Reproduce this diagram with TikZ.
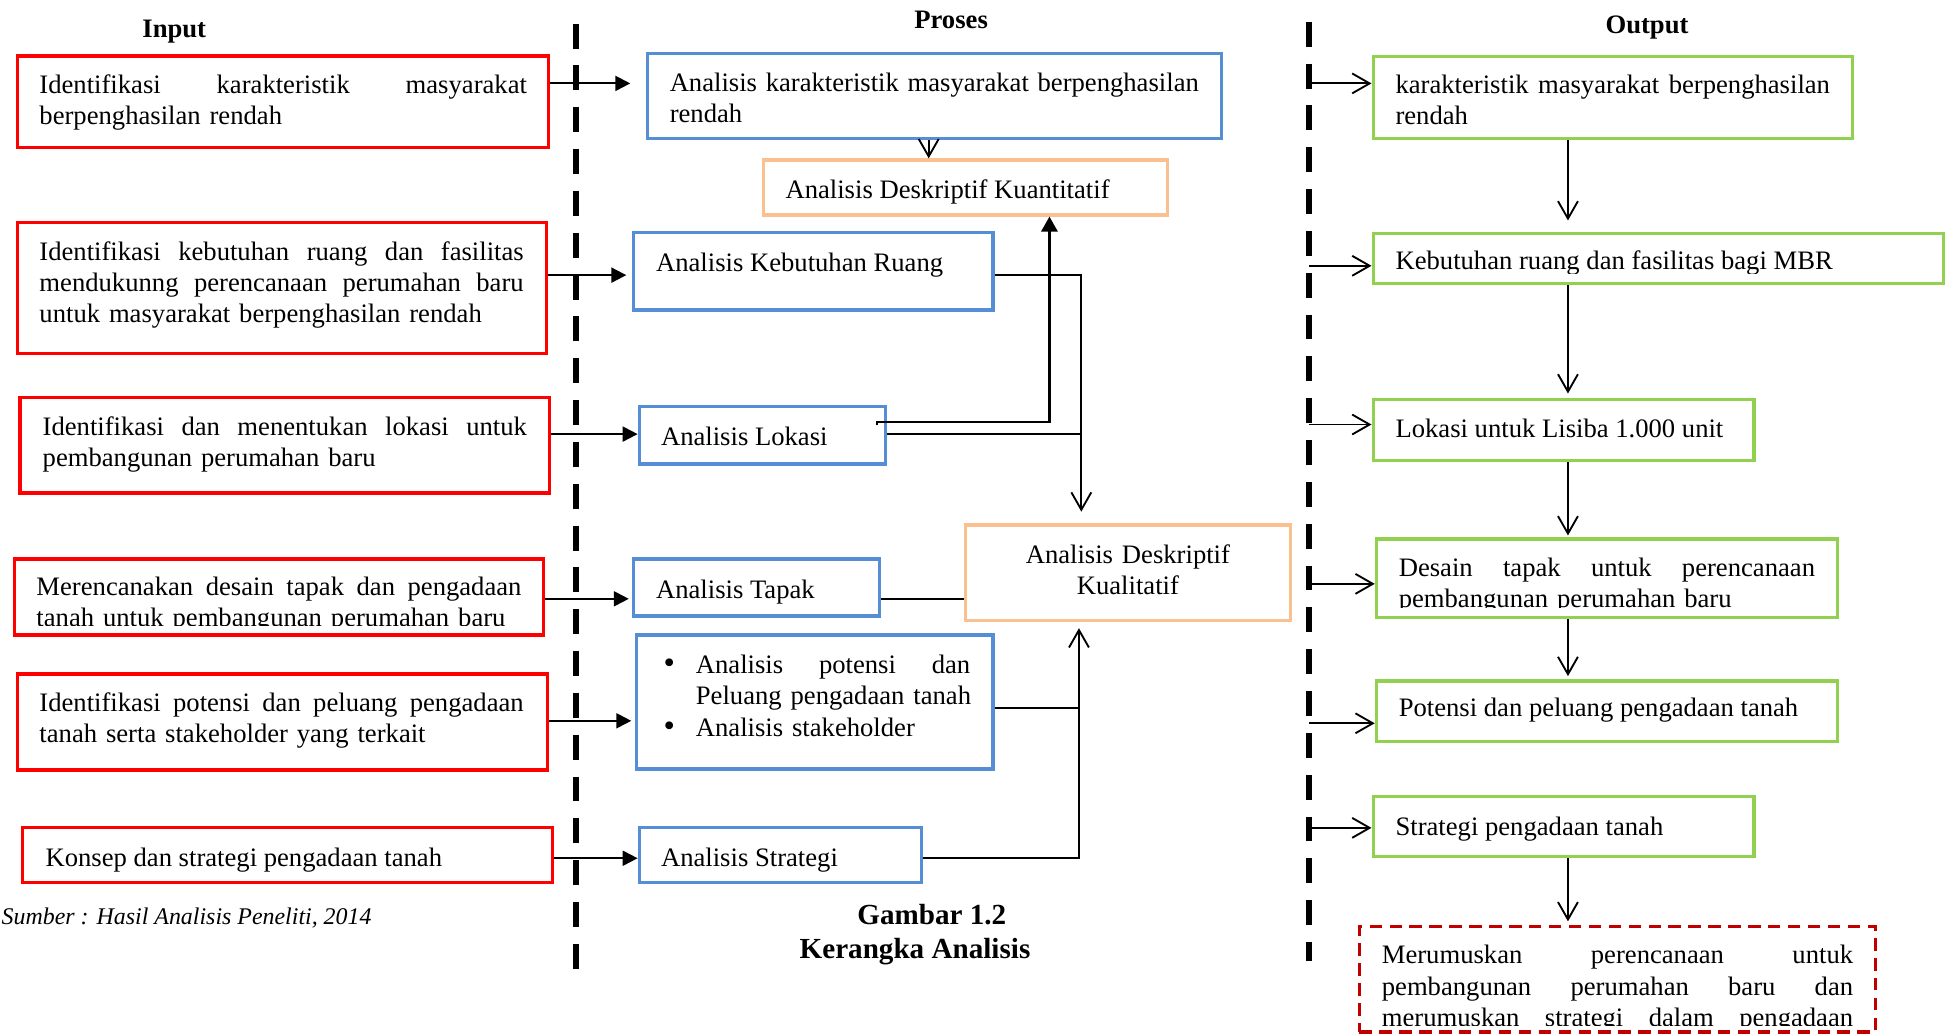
\documentclass[tikz,border=0pt]{standalone}
\usepackage{fontspec}
\setmainfont{Liberation Serif}
\usetikzlibrary{arrows.meta,fit}
\definecolor{inred}{HTML}{FF0000}
\definecolor{prblue}{HTML}{558ED5}
\definecolor{anorange}{HTML}{FAC090}
\definecolor{outgreen}{HTML}{92D050}
\definecolor{endred}{HTML}{C00000}
\newcommand\jline[2]{\makebox[#1][s]{\spaceskip=0pt\xspaceskip=0pt\relax #2}}
\newcommand\myfont{\fontsize{10.7pt}{12.5pt}\selectfont}
\newcommand\mybullet{\makebox[13pt][l]{{\fontsize{13pt}{12.5pt}\selectfont\textbullet}}}
\hyphenpenalty=10000
\begin{document}
\begin{tikzpicture}[x=0.5pt,y=-0.5pt,
  txt/.style={inner sep=0pt, outer sep=0pt, anchor=base west, align=left, font=\myfont, yshift=-0.9pt},
  ttl/.style={inner sep=0pt, anchor=base, font=\myfont\bfseries, yshift=-0.9pt},
  captxt/.style={inner sep=0pt, anchor=base, font=\fontsize{11.7pt}{13.5pt}\selectfont\bfseries, yshift=-0.9pt},
  inbox/.style={draw=inred, line width=1.3pt, inner sep=0pt},
  prbox/.style={draw=prblue, line width=1.3pt, inner sep=0pt},
  anbox/.style={draw=anorange, line width=1.3pt, inner sep=0pt},
  outbox/.style={draw=outgreen, line width=1.3pt, inner sep=0pt},
  endbox/.style={draw=endred, line width=1.3pt, dash pattern=on 5pt off 3pt, inner sep=0pt},
  divider/.style={line width=2.6pt, dash pattern=on 10pt off 6.8pt},
  inarrow/.style={line width=0.8pt, -{Triangle[length=6pt,width=6pt]}},
  fillarrow/.style={line width=1pt, -{Triangle[length=6pt,width=6.5pt]}},
  openarrow/.style={line width=0.75pt, -{Straight Barb[length=7pt,width=8pt]}},
  conn/.style={line width=0.75pt},
]
\useasboundingbox (0,0) rectangle (1568,830.6);

% titles
\node[ttl] (tin) at (140,28) {Input};
\node[ttl] (tpr) at (764,21) {Proses};
\node[ttl] (tout) at (1323,25.5) {Output};

% dividers
\coordinate (lt) at (462.5,19);
\coordinate (lb) at (462.5,781);
\coordinate (rt) at (1051.5,17.5);
\coordinate (rb) at (1051.5,772);
\draw[divider] (lt) -- (lb);
\draw[divider] (rt) -- (rb);

% input boxes
\node[inbox, fit={(14,45) (440.6,118.6)}] (i1) {};
\node[inbox, fit={(14,178.8) (439,283.8)}] (i2) {};
\node[inbox, fit={(16,319) (441.5,396)}] (i3) {};
\node[inbox, fit={(11.7,449) (436.6,510)}] (i4) {};
\node[inbox, fit={(14,541.4) (440,618.5)}] (i5) {};
\node[inbox, fit={(18.3,664.8) (444,709)}] (i6) {};

\node[txt, text width=195.8pt] (i1t) at (31.7,73.5) {\jline{195.8pt}{Identifikasi karakteristik masyarakat}\\berpenghasilan rendah};
\node[txt, text width=194.5pt] (i2t) at (31.7,207.5) {\jline{194.5pt}{Identifikasi kebutuhan ruang dan fasilitas}\\\jline{194.5pt}{mendukunng perencanaan perumahan baru}\\untuk masyarakat berpenghasilan rendah};
\node[txt, text width=194.5pt] (i3t) at (34.3,348) {\jline{194.5pt}{Identifikasi dan menentukan lokasi untuk}\\pembangunan perumahan baru};
\begin{scope}
\clip (0,440) rectangle (1568,502.5);
\node[txt, text width=194.8pt] (i4t) at (29.3,476.5) {\jline{194.8pt}{Merencanakan desain tapak dan pengadaan}\\tanah untuk pembangunan perumahan baru};
\end{scope}
\node[txt, text width=194.5pt] (i5t) at (31.7,569.5) {\jline{194.5pt}{Identifikasi potensi dan peluang pengadaan}\\tanah serta stakeholder yang terkait};
\node[txt] (i6t) at (36.6,694) {Konsep dan strategi pengadaan tanah};

% process boxes
\node[prbox, fit={(520,43) (981,111)}] (p1) {};
\node[anbox, fit={(613,128.5) (938,172.7)}] (q1) {};
\node[prbox, fit={(509,187) (797.6,249)}] (p2) {};
\node[prbox, fit={(513.5,326.6) (711,372.7)}] (p3) {};
\node[prbox, fit={(509,449) (706.5,494.8)}] (p4) {};
\node[prbox, fit={(511,510) (797.6,617.8)}] (p5) {};
\node[prbox, fit={(513.5,665) (740,709)}] (p6) {};
\node[anbox, fit={(775.6,421.7) (1036.6,498.5)}] (q2) {};

\node[txt, text width=218pt] (p1t) at (538,71.8) {\jline{212.5pt}{Analisis karakteristik masyarakat berpenghasilan}\\rendah};
\node[txt] (q1t) at (631,158) {Analisis Deskriptif Kuantitatif};
\node[txt] (p2t) at (527,216) {Analisis Kebutuhan Ruang};
\node[txt] (p3t) at (531,356) {Analisis Lokasi};
\node[txt] (p4t) at (527,479) {Analisis Tapak};
\node[txt, text width=126pt] (p5t) at (533,539.5) {\mybullet\jline{110.2pt}{Analisis potensi dan}\\\hspace*{13pt}Peluang pengadaan tanah\\\mybullet Analisis stakeholder};
\node[txt] (p6t) at (531,694) {Analisis Strategi};
\node[txt, anchor=base, text width=120pt, align=center] (q2t) at (906,451) {Analisis Deskriptif\\Kualitatif};

% output boxes
\node[outbox, fit={(1103,45.5) (1488,111)}] (o1) {};
\node[outbox, fit={(1103,187.4) (1561,228)}] (o2) {};
\node[outbox, fit={(1103,321) (1409,370)}] (o3) {};
\node[outbox, fit={(1105.6,433) (1476,496)}] (o4) {};
\node[outbox, fit={(1105.6,547) (1476,595.7)}] (o5) {};
\node[outbox, fit={(1103,640) (1409,688)}] (o6) {};
\node[endbox, fit={(1092,744) (1506.6,829)}] (o7) {};

\node[txt, text width=174.5pt] (o1t) at (1121,73.5) {\jline{174.5pt}{karakteristik masyarakat berpenghasilan}\\rendah};
\begin{scope}
\clip (1090,180) rectangle (1568,219.5);
\node[txt] (o2t) at (1121,215) {Kebutuhan ruang dan fasilitas bagi MBR};
\end{scope}
\node[txt] (o3t) at (1121,350) {Lokasi untuk Lisiba 1.000 unit};
\begin{scope}
\clip (1090,430) rectangle (1568,488);
\node[txt, text width=167.2pt] (o4t) at (1123.6,461) {\jline{167.2pt}{Desain tapak untuk perencanaan}\\pembangunan perumahan baru};
\end{scope}
\node[txt] (o5t) at (1123.6,574) {Potensi dan peluang pengadaan tanah};
\node[txt] (o6t) at (1121,669) {Strategi pengadaan tanah};
\begin{scope}
\clip (1090,740) rectangle (1568,824);
\node[txt, text width=189.3pt] (o7t) at (1110,772.5) {\jline{189.3pt}{Merumuskan perencanaan untuk}\\\jline{189.3pt}{pembangunan perumahan baru dan}\\\jline{189.3pt}{merumuskan strategi dalam pengadaan}};
\end{scope}

% captions
\node[captxt] (cap1) at (748.5,740.5) {Gambar 1.2};
\node[captxt] (cap2) at (735,768) {Kerangka Analisis};
\node[inner sep=0pt, anchor=base west, yshift=-0.9pt, font=\fontsize{9.6pt}{11pt}\selectfont\itshape] (src) at (1,740.5) {Sumber : Hasil Analisis Peneliti, 2014};

% input -> process arrows
\draw[inarrow, shorten >=6.2pt] (i1.east |- 0,67) -- (p1.west |- 0,67);
\draw[inarrow, shorten >=2.3pt] (i2.east |- 0,221) -- (p2.west |- 0,221);
\draw[inarrow] (i3.east |- 0,348.7) -- (p3.west |- 0,348.7);
\draw[inarrow, shorten >=1.3pt] (i4.east |- 0,481) -- (p4.west |- 0,481);
\draw[inarrow, shorten >=1.3pt] (i5.east |- 0,579) -- (p5.west |- 0,579);
\draw[inarrow] (i6.east |- 0,689.4) -- (p6.west |- 0,689.4);

% process connectors
\coordinate (ja) at (868.6,348.9);
\coordinate (jb) at (866.7,568.9);
\coordinate (jq) at (843,0);
\draw[openarrow] (p1.south -| 746,0) -- (q1.north -| 746,0);
\draw[fillarrow] ([shift={(-8,-8)}]p3.east) -- ++(0,-2.5) -| (q1.south -| jq);
\draw[conn] (p3.east |- ja) -- (ja);
\draw[openarrow, shorten >=4.7pt] (p2.east |- 0,221) -| (q2.north -| ja);
\draw[conn] (p4.east |- 0,481.4) -- (q2.west |- 0,481.4);
\draw[openarrow, shorten >=2.4pt] (p5.east |- jb) -| (q2.south -| jb);
\draw[conn] (p6.east |- 0,689) -| (jb);

% divider -> output arrows
\draw[openarrow] (rt |- 0,67) -- (o1.west |- 0,67);
\draw[openarrow] (rt |- 0,213.5) -- (o2.west |- 0,213.5);
\draw[openarrow] (rt |- 0,341) -- (o3.west |- 0,341);
\draw[openarrow] (rt |- 0,469) -- (o4.west |- 0,469);
\draw[openarrow] (rt |- 0,581) -- (o5.west |- 0,581);
\draw[openarrow] (rt |- 0,665) -- (o6.west |- 0,665);

% output chain
\coordinate (vx) at (1259.5,0);
\draw[openarrow, shorten >=4.5pt] (o1.south -| vx) -- (o2.north -| vx);
\draw[openarrow, shorten >=1.8pt] (o2.south -| vx) -- (o3.north -| vx);
\draw[openarrow, shorten >=0.8pt] (o3.south -| vx) -- (o4.north -| vx);
\draw[openarrow, shorten >=1.3pt] (o4.south -| vx) -- (o5.north -| vx);
\draw[openarrow, shorten >=1.3pt] (o6.south -| vx) -- (o7.north -| vx);
\end{tikzpicture}
\end{document}
